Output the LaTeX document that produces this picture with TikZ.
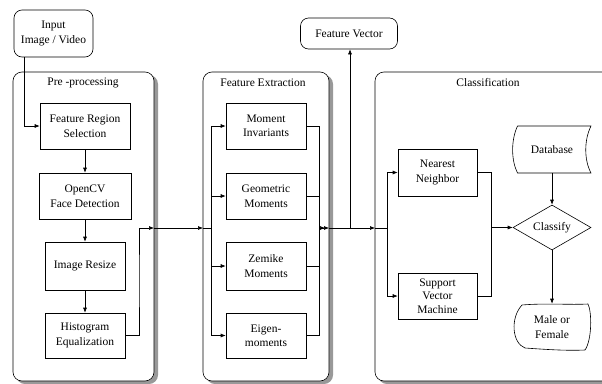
\documentclass[tikz,border=0pt]{standalone}
\usepackage{fontspec}
\setmainfont{Liberation Serif}
\usetikzlibrary{arrows.meta,shapes.geometric}
\begin{document}
\begin{tikzpicture}[x=1pt,y=-1pt,
  font=\fontsize{11.5}{14.5}\selectfont,
  line width=0.6pt,
  >={Latex[length=5pt,width=4pt]},
  box/.style={draw, rectangle, align=center, fill=white, minimum height=46, inner sep=1pt},
  roundbox/.style={draw, rectangle, rounded corners=8, align=center, fill=white, inner sep=1pt},
  bare/.style={inner sep=0pt, align=center, minimum width=70, minimum height=46},
  panel/.style={draw, rounded corners=9, fill=white},
  shade/.style={fill=black!40, rounded corners=9},
  title/.style={inner sep=1pt}]
\clip (0,0) rectangle (602,383);
% panels
\fill[shade] (16,75) rectangle (158,384);
\draw[panel] (13,72) rectangle (154,381);
\fill[shade] (206,75) rectangle (333,384);
\draw[panel] (203,72) rectangle (329,381);
\fill[shade] (378,75) rectangle (640,384);
\draw[panel] (375,72) rectangle (636,381);
\node[title] (pp) at (83,83) {Pre -processing};
\node[title] (fe) at (263,83) {Feature Extraction};
\node[title] (cl) at (488,83) {Classification};
% input / output
\node[roundbox, minimum width=79, minimum height=47] (input) at (53.5,33.5) {Input\\Image / Video};
\node[roundbox, minimum width=97, minimum height=31] (fvec) at (349,33.5) {Feature Vector};
% pre-processing
\node[box, minimum width=90] (frs) at (85,126) {Feature Region\\Selection};
\node[box, minimum width=92] (ocv) at (85,196) {OpenCV\\Face Detection};
\node[box, minimum width=80, minimum height=48] (irs) at (85,266) {Image Resize};
\node[box, minimum width=80, minimum height=45] (heq) at (85,335.5) {Histogram\\Equalization};
% feature extraction
\node[box, minimum width=80] (mi) at (266,126) {Moment\\Invariants};
\node[box, minimum width=80] (gm) at (266,196) {Geometric\\Moments};
\node[box, minimum width=80, minimum height=48] (zm) at (266,266) {Zemike\\Moments};
\node[box, minimum width=80, minimum height=45] (em) at (266,335.5) {Eigen-\\moments};
% classification
\node[box, minimum width=79, minimum height=47] (nn) at (437.5,172.5) {Nearest\\Neighbor};
\node[box, minimum width=79, minimum height=46, font=\fontsize{11.5}{13.5}\selectfont] (svm) at (437.5,296) {Support\\Vector\\Machine};
\node[diamond, draw, fill=white, minimum width=78, minimum height=45, aspect=1.73, inner sep=0pt] (cls) at (552,227.5) {Classify};
\node[bare] (db) at (552,149.5) {Database};
\draw (517.5,126) -- (591,126) .. controls (584,140) and (584,160) .. (591,173)
  -- (517.5,173) .. controls (511,160) and (511,140) .. (517.5,126);
\node[bare] (sex) at (552,327) {Male or\\Female};
\draw (522,305) .. controls (545,303) and (570,305) .. (588,304)
  .. controls (592,312) and (592,340) .. (585,350)
  .. controls (565,351) and (540,349) .. (525,348)
  .. controls (512,343) and (510,318) .. (522,305) -- cycle;
% coordinates
\coordinate (ppout) at (154,228);
\coordinate (fein) at (203,228);
\coordinate (feout) at (329,228);
\coordinate (clin) at (375,228);
% connectors
\draw[->] (input.south -| 24,0) |- (frs.west);
\draw[->] (frs) -- (ocv);
\draw[->] (ocv) -- (irs);
\draw[->] (irs) -- (heq);
\draw[->] (heq.east) -| (139,280) |- (ppout);
\draw[->] (ppout) -- (fein);
\draw (fein) -- (211,228);
\draw (211,126) -- (211,335.5);
\foreach \b in {mi,gm,zm,em}
  \draw[->] (211,0 |- \b.west) -- (\b.west);
\foreach \b in {mi,gm,zm,em}
  \draw (\b.east) -- (319,0 |- \b.east);
\draw (319,126) -- (319,335.5);
\draw[->] (319,228) -- ([xshift=-4]feout);
\draw[->] (319,228) -- (feout);
\draw[->] (feout) -- (clin);
\draw[->] (350,228) -- (fvec.south -| 350,0);
\draw (clin) -- (387,228);
\draw (387,172.5) -- (387,296);
\draw[->] (387,172.5) -- (nn.west);
\draw[->] (387,296) -- (svm.west);
\draw (nn.east) -- (491,172.5) -- (491,296) -- (svm.east);
\draw[->] (491,227.5) -- (cls.west);
\draw[->] (db.south) -- (cls.north);
\draw[->] (cls.south) -- (sex.north);
\end{tikzpicture}
\end{document}
